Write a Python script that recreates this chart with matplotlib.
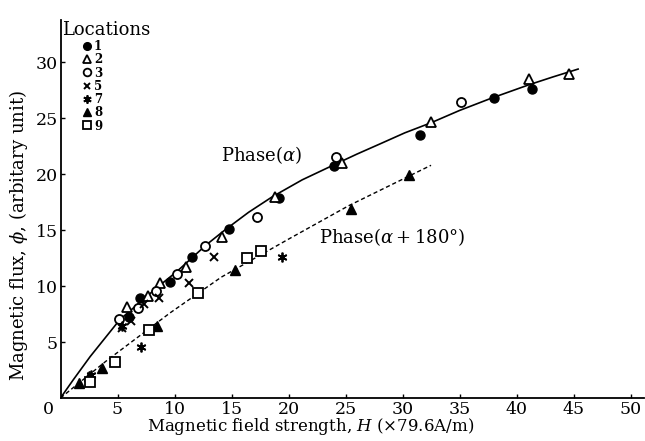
import matplotlib
matplotlib.use("Agg")
import matplotlib.pyplot as plt

plt.rcParams['font.family'] = ['DejaVu Serif']
plt.rcParams['mathtext.fontset'] = 'dejavuserif'

# ---- data (H in x79.6 A/m, phi arbitrary unit) ----
loc1_H = [6.0, 7.0, 9.6, 11.5, 14.8, 19.2, 24.0, 31.5, 38.0, 41.4]
loc1_phi = [7.2, 8.9, 10.4, 12.6, 15.1, 17.9, 20.7, 23.5, 26.8, 27.6]
loc2_H = [5.8, 7.7, 8.7, 11.0, 14.2, 18.8, 24.7, 32.5, 41.1, 44.6]
loc2_phi = [8.1, 9.1, 10.3, 11.7, 14.4, 18.0, 21.0, 24.7, 28.5, 29.0]
loc3_H = [5.1, 6.8, 8.4, 10.2, 12.7, 17.2, 24.2, 35.1]
loc3_phi = [7.1, 8.0, 9.6, 11.1, 13.6, 16.2, 21.5, 26.5]
loc5_H = [5.4, 6.2, 7.3, 8.6, 11.3, 13.5]
loc5_phi = [6.3, 6.9, 8.4, 8.9, 10.3, 12.6]
loc7_H = [2.7, 5.4, 7.1, 19.4]
loc7_phi = [2.1, 6.4, 4.6, 12.6]
loc8_H = [1.6, 2.5, 3.6, 8.5, 15.3, 25.5, 30.6]
loc8_phi = [1.3, 2.0, 2.7, 6.4, 11.4, 16.9, 19.9]
loc9_H = [2.6, 4.8, 7.8, 12.1, 16.4, 17.6]
loc9_phi = [1.45, 3.2, 6.1, 9.35, 12.5, 13.1]

alpha_H = [0, 1.1, 2.6, 5.2, 8.5, 10.2, 12.8, 14.4, 16.5, 18.6, 21.2, 23.9,
           26.0, 28.0, 30.2, 32.5, 35.0, 37.8, 41.1, 43.2, 45.4]
alpha_phi = [0, 1.6, 3.7, 7.0, 9.9, 11.3, 13.7, 15.0, 16.6, 18.0, 19.5, 20.8,
             21.8, 22.7, 23.7, 24.6, 25.7, 26.8, 28.0, 28.7, 29.4]
alpha180_H = [0, 1.4, 4.0, 9.6, 14.1, 20.0, 25.3, 32.5]
alpha180_phi = [0, 1.16, 3.3, 7.6, 10.8, 14.2, 17.2, 20.8]

x_ticks = [5, 10, 15, 20, 25, 30, 35, 40, 45, 50]
y_ticks = [5, 10, 15, 20, 25, 30]
loc_labels = ['1', '2', '3', '5', '7', '8', '9']

fig = plt.figure(figsize=(6.45, 4.41), dpi=100)
ax = fig.add_axes([0.0938, 0.0975, 0.905, 0.8575])

ax.plot(alpha_H, alpha_phi, color='black', lw=1.2, zorder=2)
ax.plot(alpha180_H, alpha180_phi, color='black', lw=1.0, ls=(0, (3, 2)), zorder=2)

ms = 6.5
h1, = ax.plot(loc1_H, loc1_phi, marker='o', ms=ms, mfc='black', mec='black', ls='none', zorder=3)
h2, = ax.plot(loc2_H, loc2_phi, marker='^', ms=ms, mfc='white', mec='black', mew=1.3, ls='none', zorder=3)
h3, = ax.plot(loc3_H, loc3_phi, marker='o', ms=ms, mfc='white', mec='black', mew=1.3, ls='none', zorder=3)
h5, = ax.plot(loc5_H, loc5_phi, marker='x', ms=5.5, mec='black', mew=1.4, ls='none', zorder=3)
h7, = ax.plot(loc7_H, loc7_phi, marker=(6, 2, 0), ms=7, mec='black', mew=1.3, ls='none', zorder=3)
h8, = ax.plot(loc8_H, loc8_phi, marker='^', ms=ms, mfc='black', mec='black', ls='none', zorder=3)
h9, = ax.plot(loc9_H, loc9_phi, marker='s', ms=ms, mfc='white', mec='black', mew=1.3, ls='none', zorder=3)

ax.set_xlim(0, 51.2)
ax.set_ylim(0, 33.8)
ax.spines['top'].set_visible(False)
ax.spines['right'].set_visible(False)
ax.spines['left'].set_linewidth(1.3)
ax.spines['bottom'].set_linewidth(1.3)
ax.set_xticks(x_ticks)
ax.set_yticks(y_ticks)
ax.tick_params(direction='in', length=3, width=1, labelsize=12.5, pad=2)
ax.text(-0.6, -0.3, '0', ha='right', va='top', fontsize=12.5)

ax.set_xlabel('Magnetic field strength, $H$ (×79.6A/m)', fontsize=12)
ax.xaxis.set_label_coords(0.428, -0.048)
ax.set_ylabel('Magnetic flux, $\\phi$, (arbitary unit)', fontsize=13)
ax.yaxis.set_label_coords(-0.052, 0.43)

ax.text(14.1, 21.7, 'Phase($\\alpha$)', fontsize=13, va='center', ha='left')
ax.text(22.7, 14.4, 'Phase($\\alpha+180°$)', fontsize=13, va='center', ha='left')

ax.text(0.1, 32.9, 'Locations', fontsize=13, va='center', ha='left')
leg = ax.legend([h1, h2, h3, h5, h7, h8, h9], loc_labels, loc='upper left',
                bbox_to_anchor=(0.03, 0.962), frameon=False,
                prop={'size': 8.5, 'weight': 'bold'},
                handlelength=0.6, handletextpad=0.25, labelspacing=0.02,
                borderpad=0, markerscale=0.85)

fig.savefig('out.png', dpi=100)
